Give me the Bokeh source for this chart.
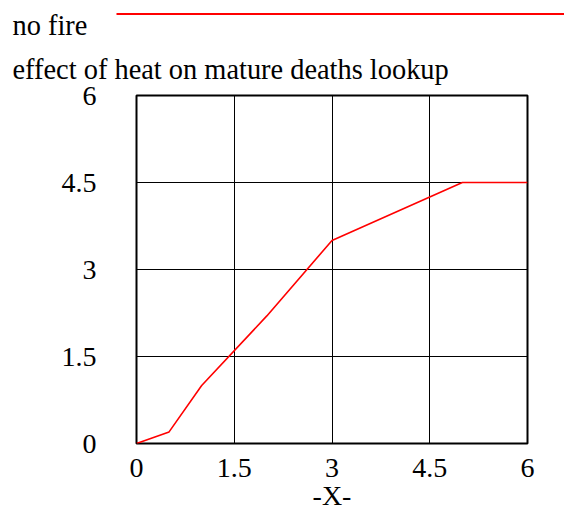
from bokeh.plotting import figure
from bokeh.models import FixedTicker, NumeralTickFormatter, Range1d
from bokeh.layouts import column
from bokeh.core.properties import value
from bokeh.embed import file_html
from bokeh.resources import INLINE

# data
x_values = [0, 0.5, 1, 2, 3, 5, 6]
y_values = [0, 0.2, 1, 2.2, 3.5, 4.5, 4.5]
x_ticks = [0, 1.5, 3, 4.5, 6]
y_ticks = [0, 1.5, 3, 4.5, 6]
series_name = "no fire"
title_text = "effect of heat on mature deaths lookup"
x_label = "-X-"

FONT = "Liberation Serif"
FS = "28px"
HFS = "28.4px"
RED = "#ff0000"
W = 564
HEAD_H = 40
MAIN_H = 476

# ---- header: legend entry (pixel space, y downward) ----
head = figure(width=W, height=HEAD_H, output_backend="svg", toolbar_location=None,
              x_range=Range1d(0, W), y_range=Range1d(HEAD_H, 0),
              min_border=0, min_border_left=0, min_border_right=0,
              min_border_top=0, min_border_bottom=0,
              x_axis_type=None, y_axis_type=None)
head.frame_align = False
head.outline_line_color = None
head.grid.visible = False
head.text(x=[12], y=[25], text=[series_name], text_font=value(FONT),
          text_font_size=HFS, text_baseline="alphabetic", text_color="black")
head.line(x=[116, W], y=[13.5, 13.5], line_color=RED, line_width=2)

# ---- main chart ----
p = figure(width=W, height=MAIN_H, output_backend="svg", toolbar_location=None,
           x_range=Range1d(0, 6), y_range=Range1d(0, 6), title=title_text,
           min_border_left=136, min_border_right=W - 527, min_border_top=95 - HEAD_H,
           min_border_bottom=MAIN_H - (443 - HEAD_H), background_fill_color="white",
           border_fill_color="white")
p.frame_align = False
p.title.align = "left"
p.title.offset = -124
p.title.text_font = FONT
p.title.text_font_size = HFS
p.title.text_font_style = "normal"
p.title.text_color = "black"
p.title.standoff = 22

p.line(x_values, y_values, line_color=RED, line_width=1.6)

p.outline_line_color = "black"
p.outline_line_width = 2

for ax, ticks in ((p.xaxis, x_ticks), (p.yaxis, y_ticks)):
    ax.ticker = FixedTicker(ticks=ticks)
    ax.formatter = NumeralTickFormatter(format="0.[0]")
    ax.axis_line_color = None
    ax.major_tick_line_color = None
    ax.minor_tick_line_color = None
    ax.major_label_text_font = FONT
    ax.major_label_text_font_size = FS
    ax.major_label_text_color = "black"

p.xaxis.major_label_standoff = 9
p.yaxis.major_label_standoff = 34
p.xaxis.axis_label = x_label
p.xaxis.axis_label_text_font = FONT
p.xaxis.axis_label_text_font_size = FS
p.xaxis.axis_label_text_font_style = "normal"
p.xaxis.axis_label_text_color = "black"
p.xaxis.axis_label_standoff = 0

p.xgrid.ticker = FixedTicker(ticks=x_ticks)
p.ygrid.ticker = FixedTicker(ticks=y_ticks)
p.grid.grid_line_color = "black"
p.grid.grid_line_width = 1

layout = column(head, p, spacing=0)
open("out.html", "w").write(file_html(layout, INLINE))
